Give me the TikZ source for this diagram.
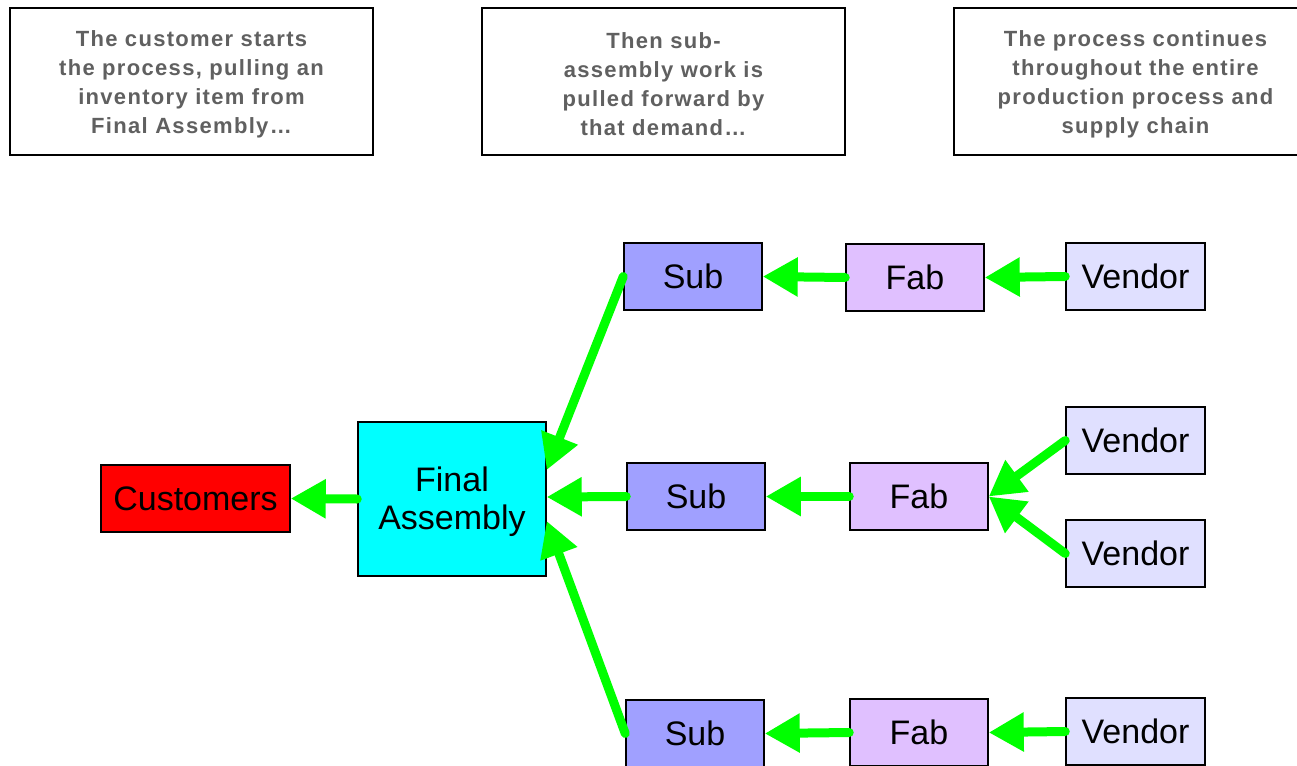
\documentclass[tikz,border=0pt]{standalone}
\usepackage{fontspec}
\setmainfont{Liberation Sans}
\newfontfamily\notefont[LetterSpace=6]{Liberation Sans}
\usetikzlibrary{arrows.meta}
\definecolor{arrgreen}{HTML}{00FF00}
\definecolor{subfill}{HTML}{A0A0FF}
\definecolor{fabfill}{HTML}{E0C0FF}
\definecolor{vendfill}{HTML}{E0E0FF}
\definecolor{fafill}{HTML}{00FFFF}
\definecolor{custfill}{HTML}{FF0000}
\definecolor{notegray}{HTML}{606060}
\tikzset{
  note/.style={draw=black, line width=1.5pt, fill=white, inner sep=0pt,
    minimum width=363pt, minimum height=147pt},
  notetext/.style={inner sep=0pt, align=center, text=notegray,
    font=\notefont\fontsize{22}{29}\selectfont\bfseries},
  box/.style={draw=black, line width=1.5pt, inner sep=0pt, align=center,
    font=\fontsize{34}{38}\selectfont, minimum width=138pt, minimum height=67pt},
  arr/.style={draw=arrgreen, line width=9pt, line cap=round,
    -{Triangle[length=35pt,width=37pt]}}
}
\begin{document}
\begin{tikzpicture}[x=1pt,y=-1pt]
\useasboundingbox (0,0) rectangle (1297,765);
% notes
\node[note] (n1) at (191.5,81.5) {};
\node[notetext] (t1) at ([yshift=-2.5pt]n1.center)
  {The customer starts\\the process, pulling an\\inventory item from\\Final Assembly\ldots};
\node[note] (n2) at (663.5,81.5) {};
\node[notetext] (t2) at ([yshift=-2.5pt]n2.center)
  {Then sub-\\assembly work is\\pulled forward by\\that demand\ldots};
\node[note] (n3) at (1135.5,81.5) {};
\node[notetext] (t3) at ([yshift=-2.5pt]n3.center)
  {The process continues\\throughout the entire\\production process and\\supply chain};
% main nodes
\node[box, fill=custfill, minimum width=189pt] (cust) at (195.5,498.5) {Customers};
\node[box, fill=fafill, minimum width=188pt, minimum height=154pt] (fa) at (452,499) {};
\node[inner sep=0pt, align=center, font=\fontsize{34}{38}\selectfont] (fat) at ([yshift=-2.5pt]fa.center) {Final\\Assembly};
\node[box, fill=subfill] (sub1) at (693,276.5) {Sub};
\node[box, fill=fabfill] (fab1) at (915,277.5) {Fab};
\node[box, fill=vendfill, minimum width=139pt] (ven1) at (1135.5,276.5) {Vendor};
\node[box, fill=subfill] (sub2) at (696,496.5) {Sub};
\node[box, fill=fabfill] (fab2) at (919,496.5) {Fab};
\node[box, fill=vendfill, minimum width=139pt] (ven2) at (1135.5,440.5) {Vendor};
\node[box, fill=vendfill, minimum width=139pt] (ven3) at (1135.5,553.5) {Vendor};
\node[box, fill=subfill] (sub3) at (695,733.5) {Sub};
\node[box, fill=fabfill] (fab3) at (919,732.5) {Fab};
\node[box, fill=vendfill, minimum width=139pt] (ven4) at (1135.5,731.5) {Vendor};
% arrows
\draw[arr] (fa.west) -- (cust.east);
\draw[arr] (sub1.west) -- ([yshift=29pt]fa.east);
\draw[arr] (sub2.west) -- ([yshift=2pt]fa.east);
\draw[arr] (sub3.west) -- ([yshift=-22pt]fa.east);
\draw[arr] (fab1.west) -- (sub1.east);
\draw[arr] (fab2.west) -- (sub2.east);
\draw[arr] (fab3.west) -- (sub3.east);
\draw[arr] (ven1.west) -- (fab1.east);
\draw[arr] (ven2.west) -- (fab2.east);
\draw[arr] (ven3.west) -- (fab2.east);
\draw[arr] (ven4.west) -- (fab3.east);
\end{tikzpicture}
\end{document}
